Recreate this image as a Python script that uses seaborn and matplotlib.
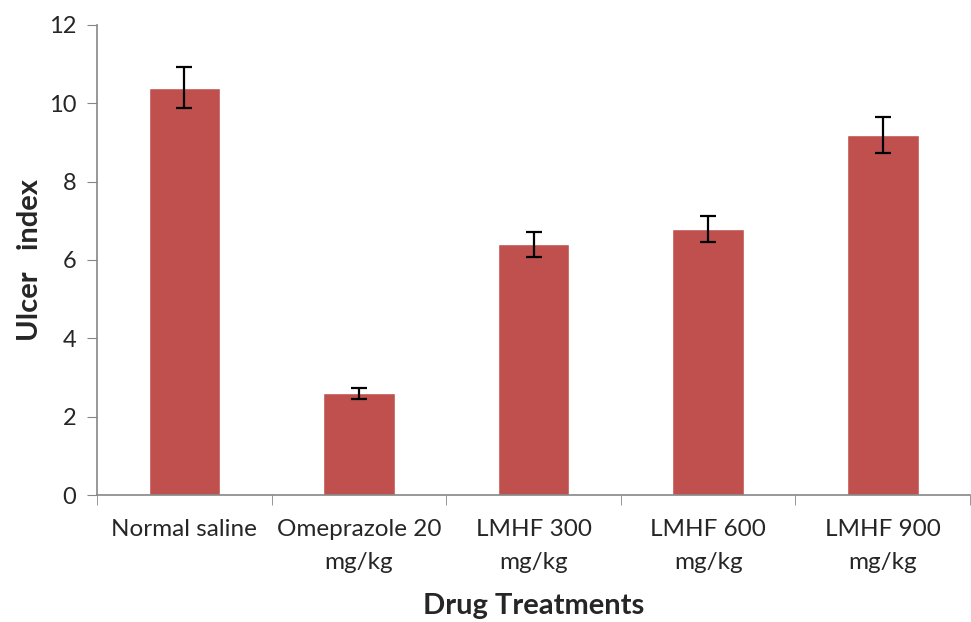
import numpy as np
import pandas as pd
import matplotlib
matplotlib.use("Agg")
import matplotlib.pyplot as plt
import seaborn as sns

# values
treatments = ["Normal saline", "Omeprazole 20\nmg/kg", "LMHF 300\nmg/kg",
              "LMHF 600\nmg/kg", "LMHF 900\nmg/kg"]
ulcer_index = [10.4, 2.6, 6.4, 6.8, 9.2]
ulcer_err = [0.53, 0.14, 0.32, 0.33, 0.46]

df = pd.DataFrame({"treatment": treatments, "ulcer": ulcer_index})

sns.set_style("white")
plt.rcParams["font.family"] = ["Lato", "DejaVu Sans"]

fig = plt.figure(figsize=(9.71, 6.22), dpi=100)
ax = fig.add_axes([0.1, 0.204, 0.899, 0.756])

sns.barplot(data=df, x="treatment", y="ulcer", color="#C0504D",
            saturation=1, width=0.41, ax=ax)
ax.errorbar(np.arange(len(treatments)), ulcer_index, yerr=ulcer_err,
            fmt="none", ecolor="black", elinewidth=1.6, capsize=6, capthick=1.6)

ax.set_xlim(-0.5, len(treatments) - 0.5)
ax.set_ylim(0, 12)
ax.set_yticks(range(0, 13, 2))

# Excel-style category boundary ticks
ax.set_xticks(np.arange(-0.5, len(treatments)), minor=True)
ax.tick_params(axis="x", which="major", length=0, pad=17, labelsize=17.5)
for lbl in ax.get_xticklabels():
    lbl.set_linespacing(1.7)
ax.tick_params(axis="x", which="minor", length=7, color="#868686", bottom=True)
ax.tick_params(axis="y", length=7, color="#868686", left=True, labelsize=17, pad=8)

for side in ["top", "right"]:
    ax.spines[side].set_visible(False)
for side in ["left", "bottom"]:
    ax.spines[side].set_color("#868686")
    ax.spines[side].set_linewidth(1.2)

ax.set_xlabel("Drug Treatments", fontsize=21, fontweight="bold", labelpad=15)
ax.set_ylabel("Ulcer   index", fontsize=21, fontweight="bold", labelpad=4)

plt.savefig("out.png", dpi=100)
